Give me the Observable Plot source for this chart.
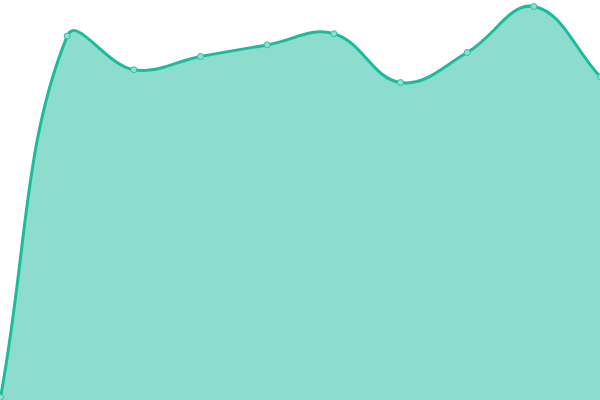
<!DOCTYPE html>
<html>
<head>
<meta charset="utf-8">
<script src="https://cdn.jsdelivr.net/npm/d3@7"></script>
<script src="https://cdn.jsdelivr.net/npm/@observablehq/plot@0.6"></script>
<style>
html,body{margin:0;padding:0;background:#fff;}
</style>
</head>
<body>
<div id="chart"></div>
<script>
const categories = [0, 1, 2, 3, 4, 5, 6, 7, 8, 9];
const values = [0.8, 91.1, 82.7, 86.0, 88.9, 91.7, 79.5, 87.0, 98.5, 80.9];

const data = categories.map((c, i) => ({x: c, y: values[i]}));

// Spline curve (tension-based, distance-weighted control points)
function SplineCurve(context) { this._context = context; this._t = 0.4; }
SplineCurve.prototype = {
  areaStart() { this._line = 0; },
  areaEnd() { this._line = NaN; },
  lineStart() { this._x = []; this._y = []; },
  point(x, y) { this._x.push(+x); this._y.push(+y); },
  lineEnd() {
    const xs = this._x, ys = this._y, n = xs.length, ctx = this._context, t = this._t;
    if (n) {
      if (this._line) ctx.lineTo(xs[0], ys[0]); else ctx.moveTo(xs[0], ys[0]);
      if (n === 2) ctx.lineTo(xs[1], ys[1]);
      else if (n > 2) {
        const cpPrev = [], cpNext = [];
        for (let i = 0; i < n; i++) {
          const pi = Math.max(0, i - 1), ni = Math.min(n - 1, i + 1);
          const d01 = Math.hypot(xs[i] - xs[pi], ys[i] - ys[pi]);
          const d12 = Math.hypot(xs[ni] - xs[i], ys[ni] - ys[i]);
          let s01 = d01 / (d01 + d12), s12 = d12 / (d01 + d12);
          if (!isFinite(s01)) s01 = 0;
          if (!isFinite(s12)) s12 = 0;
          const fa = t * s01, fb = t * s12;
          const vx = xs[ni] - xs[pi], vy = ys[ni] - ys[pi];
          cpPrev[i] = [xs[i] - fa * vx, ys[i] - fa * vy];
          cpNext[i] = [xs[i] + fb * vx, ys[i] + fb * vy];
        }
        for (let i = 1; i < n; i++) {
          ctx.bezierCurveTo(cpNext[i - 1][0], cpNext[i - 1][1], cpPrev[i][0], cpPrev[i][1], xs[i], ys[i]);
        }
      }
    }
    if (this._line || (this._line !== 0 && n === 1)) ctx.closePath();
    this._line = 1 - this._line;
  }
};
const spline = (context) => new SplineCurve(context);

const chart = Plot.plot({
  width: 600,
  height: 400,
  margin: 0,
  x: {domain: [0, 9], axis: null},
  y: {domain: [0, 100], axis: null},
  marks: [
    Plot.areaY(data, {x: "x", y: "y", curve: spline, fill: "#1abc9c", fillOpacity: 0.5}),
    Plot.lineY(data, {x: "x", y: "y", curve: spline, stroke: "#1abc9c", strokeWidth: 3}),
    Plot.dot(data, {x: "x", y: "y", r: 3, fill: "#90e0d0", stroke: "#2cc1a3", strokeWidth: 1})
  ]
});
document.getElementById("chart").appendChild(chart);
</script>
</body>
</html>
